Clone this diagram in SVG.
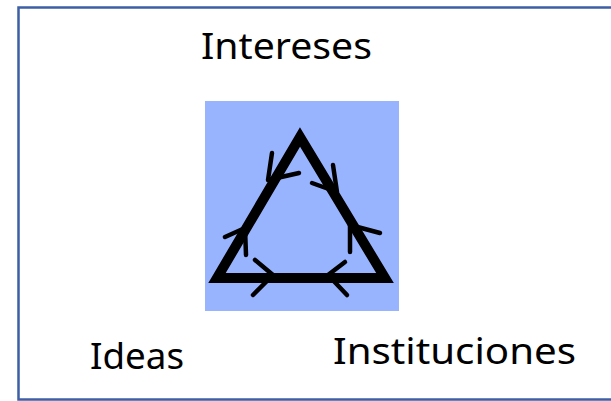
<svg xmlns="http://www.w3.org/2000/svg" width="611" height="401" viewBox="0 0 611 401">
<style>
.lbl{font-family:"Noto Sans","Open Sans","Liberation Sans",sans-serif;font-size:36px;fill:#000}
.chev{fill:none;stroke:#000;stroke-width:4.5;stroke-linecap:round;stroke-linejoin:round}
</style>
<rect x="0" y="0" width="611" height="401" fill="#fff"/>
<rect x="18.5" y="7.5" width="600" height="392" fill="none" stroke="#3c5fa6" stroke-width="2.5"/>
<g id="center">
<rect x="205" y="101" width="194" height="210" fill="#99b4ff"/>
<polygon points="217,278 300,137 385,278" fill="none" stroke="#000" stroke-width="10" stroke-linejoin="miter"/>
</g>
<g id="connectors">
<polyline class="chev" points="272,153 268,180 299,173"/>
<polyline class="chev" points="225,237 245,228 246,255"/>
<polyline class="chev" points="333,165 337,192 312,183"/>
<polyline class="chev" points="380,233 350,225 350,252"/>
<polyline class="chev" points="255,260 273,275 253,295"/>
<polyline class="chev" points="345,262 328,275 347,295"/>
</g>
<g id="intereses"><text class="lbl" x="201" y="59" textLength="171" lengthAdjust="spacingAndGlyphs">Intereses</text></g>
<g id="ideas"><text class="lbl" x="90" y="369" textLength="94" lengthAdjust="spacingAndGlyphs">Ideas</text></g>
<g id="instituciones"><text class="lbl" x="333" y="364" textLength="243" lengthAdjust="spacingAndGlyphs">Instituciones</text></g>
</svg>
